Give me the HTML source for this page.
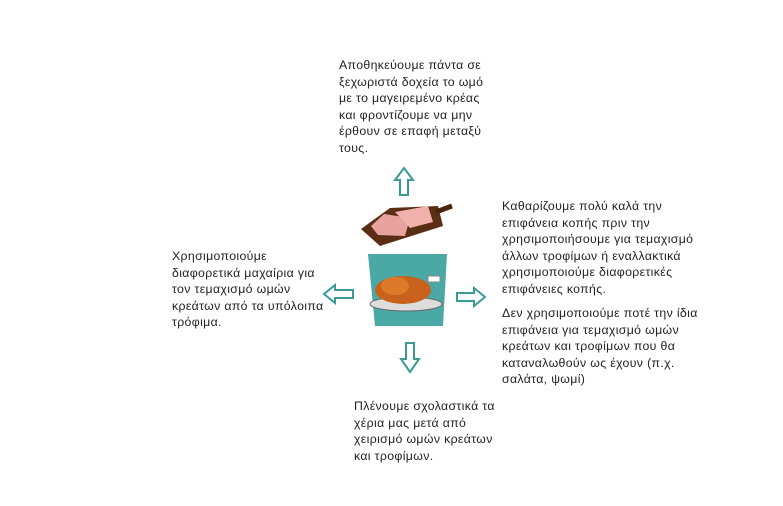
<!DOCTYPE html>
<html><head><meta charset="utf-8"><style>
body{margin:0;width:783px;height:506px;background:#fff;position:relative;overflow:hidden;font-family:"Liberation Sans","DejaVu Sans",sans-serif;font-size:12.3px;letter-spacing:0.35px;color:#222;}
.t{position:absolute;line-height:16.5px;white-space:nowrap;}
</style></head><body>
<div class="t" style="left:339px;top:57px">Αποθηκεύουμε πάντα σε<br>ξεχωριστά δοχεία το ωμό<br>με το μαγειρεμένο κρέας<br>και φροντίζουμε να μην<br>έρθουν σε επαφή μεταξύ<br>τους.</div>
<div class="t" style="left:502px;top:198px">Καθαρίζουμε πολύ καλά την<br>επιφάνεια κοπής πριν την<br>χρησιμοποιήσουμε για τεμαχισμό<br>άλλων τροφίμων ή εναλλακτικά<br>χρησιμοποιούμε διαφορετικές<br>επιφάνειες κοπής.</div>
<div class="t" style="left:502px;top:305px">Δεν χρησιμοποιούμε ποτέ την ίδια<br>επιφάνεια για τεμαχισμό ωμών<br>κρεάτων και τροφίμων που θα<br>καταναλωθούν ως έχουν (π.χ.<br>σαλάτα, ψωμί)</div>
<div class="t" style="left:172px;top:248px">Χρησιμοποιούμε<br>διαφορετικά μαχαίρια για<br>τον τεμαχισμό ωμών<br>κρεάτων από τα υπόλοιπα<br>τρόφιμα.</div>
<div class="t" style="left:354px;top:398px">Πλένουμε σχολαστικά τα<br>χέρια μας μετά από<br>χειρισμό ωμών κρεάτων<br>και τροφίμων.</div>
<svg width="783" height="506" style="position:absolute;left:0;top:0">
<g fill="#fff" stroke="#3a9a96" stroke-width="2">
<polygon points="404,168 413,180 408,180 408,195 400,195 400,180 395,180"/>
<polygon points="410,372 419,359 414,359 414,343 406,343 406,359 401,359"/>
<polygon points="324,294 335,285 335,290 353,290 353,298 335,298 335,303"/>
<polygon points="485,297 474,288 474,293 457,293 457,301 474,301 474,306"/>
</g>
<polygon points="368,254 447,254 443,326 375,326" fill="#4aa8a5"/>
<polygon points="361,229 390,208 438,206 443,226 380,246" fill="#5a2e14"/>
<line x1="436" y1="212" x2="452" y2="206" stroke="#4a2510" stroke-width="5"/>
<polygon points="371,226 384,214 410,218 405,236 378,235" fill="#e8a3a0"/>
<polygon points="395,212 428,206 433,222 410,228" fill="#f0b0ab"/>
<ellipse cx="406" cy="304" rx="36" ry="7" fill="#ddd" stroke="#666"/>
<ellipse cx="403" cy="290" rx="28" ry="14" fill="#c8621c"/>
<ellipse cx="395" cy="286" rx="14" ry="9" fill="#dd7a2a"/>
<rect x="428" y="276" width="12" height="6" fill="#fff" stroke="#888"/>
</svg>
</body></html>
